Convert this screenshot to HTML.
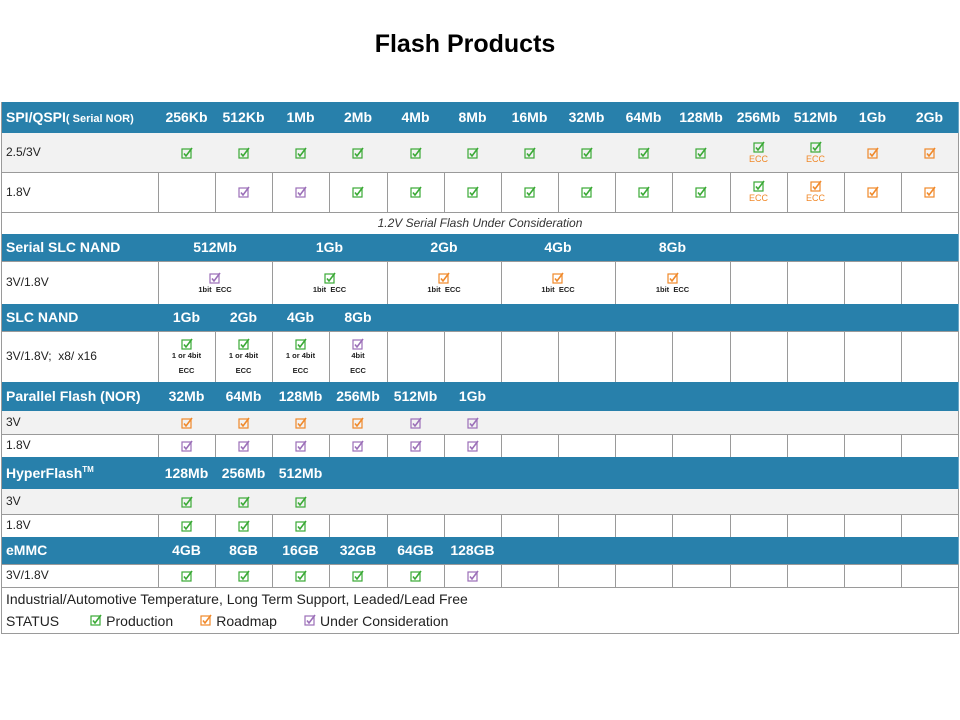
<!DOCTYPE html>
<html><head><meta charset="utf-8"><style>
body{margin:0;width:960px;height:720px;background:#fff;position:relative;overflow:hidden;font-family:"Liberation Sans Narrow","Liberation Sans",sans-serif}
#title{position:absolute;left:0;width:930px;top:30px;text-align:center;font:bold 25px "Liberation Sans",sans-serif;color:#000}
#tbl{position:absolute;left:0;top:0}
.c{position:absolute;box-sizing:border-box;border-right:1px solid #9a9a9a;border-bottom:1px solid #9a9a9a;display:flex;flex-direction:column;align-items:center;justify-content:center;font-size:12px;color:#222;line-height:1.05}
.h{background:#2880ab;color:#fff;font-weight:bold;font-size:14px;border-right-color:#6aa6c6}
.g{background:#f2f2f2}
.lab{align-items:flex-start;padding-left:4px}
.sm{font-size:7.5px;font-weight:bold;color:#222;margin-top:2px;text-align:center}
.ecc{font-size:9px;color:#f0892a;margin-top:2px}
.note{font-style:italic;font-size:12px;color:#333}
sup{font-size:8px;vertical-align:6px;line-height:0}
</style></head><body>
<div id="title">Flash Products</div>
<div id="tbl"></div>
<script>
const xs=[2,158,215,272,329,387,444,501,558,615,672,730,787,844,901,958];
const COL={G:'#3aa935',O:'#f0892a',P:'#9b6fb8'};
function chk(c){return '<svg width="12" height="12" viewBox="0 0 12 12"><rect x="1" y="2" width="9" height="9" fill="none" stroke="'+COL[c]+'" stroke-width="1.2"/><path d="M3 6.5 L5 9 L11 1" fill="none" stroke="'+COL[c]+'" stroke-width="1.6"/></svg>';}
const E=n=>Array(n).fill([1,'']);
const rows=[
[102,31,'h','SPI/QSPI<span style="font-size:11px">( Serial NOR)</span>',['256Kb','512Kb','1Mb','2Mb','4Mb','8Mb','16Mb','32Mb','64Mb','128Mb','256Mb','512Mb','1Gb','2Gb'].map(t=>[1,t])],
[133,39,'g','2.5/3V',[...Array(10).fill([1,'G']),[1,'G|ECC'],[1,'G|ECC'],[1,'O'],[1,'O']]],
[172,40,'','1.8V',[[1,''],[1,'P'],[1,'P'],...Array(7).fill([1,'G']),[1,'G|ECC'],[1,'O|ECC'],[1,'O'],[1,'O']]],
[212,22,'note',null,[[15,'<span class="note">1.2V Serial Flash Under Consideration</span>']]],
[234,27,'h','Serial SLC NAND',[[2,'512Mb'],[2,'1Gb'],[2,'2Gb'],[2,'4Gb'],[2,'8Gb'],[4,'']]],
[261,43,'','3V/1.8V',[[2,'P#1bit&nbsp; ECC'],[2,'G#1bit&nbsp; ECC'],[2,'O#1bit&nbsp; ECC'],[2,'O#1bit&nbsp; ECC'],[2,'O#1bit&nbsp; ECC'],...E(4)]],
[304,27,'h','SLC NAND',[[1,'1Gb'],[1,'2Gb'],[1,'4Gb'],[1,'8Gb'],...E(6),[4,'']]],
[331,51,'','3V/1.8V;&nbsp; x8/ x16',[[1,'G#1 or 4bit<br><br>ECC'],[1,'G#1 or 4bit<br><br>ECC'],[1,'G#1 or 4bit<br><br>ECC'],[1,'P#4bit<br><br>ECC'],...E(10)]],
[382,29,'h','Parallel Flash (NOR)',[[1,'32Mb'],[1,'64Mb'],[1,'128Mb'],[1,'256Mb'],[1,'512Mb'],[1,'1Gb'],...E(8)]],
[411,23,'g','3V',[[1,'O'],[1,'O'],[1,'O'],[1,'O'],[1,'P'],[1,'P'],...E(8)]],
[434,23,'','1.8V',[...Array(6).fill([1,'P']),...E(8)]],
[457,32,'h','HyperFlash<sup>TM</sup>',[[1,'128Mb'],[1,'256Mb'],[1,'512Mb'],...E(7),[4,'']]],
[489,25,'g','3V',[...Array(3).fill([1,'G']),...E(11)]],
[514,23,'','1.8V',[...Array(3).fill([1,'G']),...E(11)]],
[537,27,'h','eMMC',[[1,'4GB'],[1,'8GB'],[1,'16GB'],[1,'32GB'],[1,'64GB'],[1,'128GB'],...E(4),[4,'']]],
[564,23,'','3V/1.8V',[...Array(5).fill([1,'G']),[1,'P'],...E(8)]],
];
const tbl=document.getElementById('tbl');
function mk(x1,x2,y,h,cls,html,name){
  const d=document.createElement('div');
  d.className='c '+cls;
  d.style.left=x1+'px';d.style.top=y+'px';d.style.width=(x2-x1+1)+'px';d.style.height=(h+1)+'px';
  d.innerHTML=html;
  
  
  tbl.appendChild(d);return d;
}
function content(s){
  if(!s) return '';
  if(s.length===1&&COL[s]) return chk(s);
  if(s.includes('|')){const p=s.split('|');return chk(p[0])+'<div class="ecc">'+p[1]+'</div>';}
  if(s.includes('#')&&COL[s[0]]){const p=s.split('#');return chk(p[0])+'<div class="sm">'+p[1]+'</div>';}
  return '<span>'+s+'</span>';
}
rows.forEach((r)=>{
  const [y,h,cls,label,cells]=r;
  let ci=1;
  if(label!==null){mk(xs[0],xs[1],y,h,cls+' lab','<span style="white-space:nowrap">'+label+'</span>','row-label');}
  else ci=0;
  cells.forEach(([sp,s])=>{
    const x1=xs[ci],x2=xs[ci+sp];
    mk(x1,x2,y,h,cls==='note'?'':cls,content(s),cls==='h'?'column-header':(s&&COL[s[0]]?'status-cell':'table-cell'));
    ci+=sp;
  });
});
const f=mk(2,958,587,46,'lab','','footer-legend');
f.style.justifyContent='center';f.style.fontSize='14px';f.style.lineHeight='22px';f.style.color='#222';
f.innerHTML='<div>Industrial/Automotive Temperature, Long Term Support, Leaded/Lead Free</div><div>STATUS&nbsp;&nbsp;&nbsp;&nbsp;&nbsp;&nbsp;&nbsp;&nbsp;'+chk('G')+' Production&nbsp;&nbsp;&nbsp;&nbsp;&nbsp;&nbsp;&nbsp;'+chk('O')+' Roadmap&nbsp;&nbsp;&nbsp;&nbsp;&nbsp;&nbsp;&nbsp;'+chk('P')+' Under Consideration</div>';
const b=document.createElement('div');
b.style.cssText='position:absolute;left:1px;top:102px;width:1px;height:532px;background:#9a9a9a';


tbl.appendChild(b);
</script>
</body></html>
